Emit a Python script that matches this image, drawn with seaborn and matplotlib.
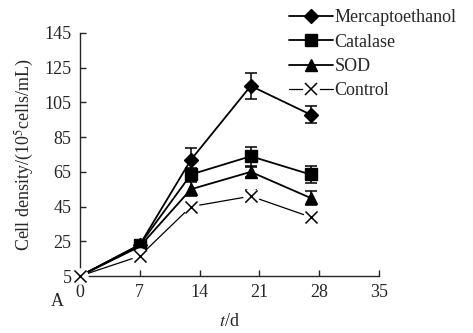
import matplotlib
matplotlib.use("Agg")
import numpy as np
import pandas as pd
import matplotlib.pyplot as plt
import seaborn as sns
from matplotlib.lines import Line2D

sns.set_style("ticks")
plt.rcParams['font.family'] = ['Liberation Serif', 'DejaVu Serif']
plt.rcParams['mathtext.fontset'] = 'stix'

# data
days = [0, 7, 13, 20, 27]
series = ['Mercaptoethanol', 'Catalase', 'SOD', 'Control']
merc = [5, 23, 72, 114.5, 98]
cat = [5, 23, 63.5, 74, 63.5]
sod = [5, 22, 55, 65, 50]
ctrl = [5, 16.5, 45, 51, 39]
merc_err = [0, 3, 7, 7.5, 5]
cat_err = [0, 3, 4, 5.5, 5]
sod_err = [0, 3, 4, 3, 4]
ctrl_err = [0, 2, 2, 3.5, 0]

values = {'Mercaptoethanol': merc, 'Catalase': cat, 'SOD': sod, 'Control': ctrl}
errors = {'Mercaptoethanol': merc_err, 'Catalase': cat_err, 'SOD': sod_err, 'Control': ctrl_err}
markers = {'Mercaptoethanol': 'D', 'Catalase': 's', 'SOD': '^', 'Control': 'x'}
msizes = {'Mercaptoethanol': 7.5, 'Catalase': 8, 'SOD': 8, 'Control': 9}

df = pd.DataFrame([(s, d, v, e) for s in series
                   for d, v, e in zip(days, values[s], errors[s])],
                  columns=['series', 'day', 'density', 'err'])

fig = plt.figure(figsize=(4.73, 3.33), dpi=100)
ax = fig.add_axes([0.169, 0.171, 0.632, 0.730])

for s in series:
    sub = df[df.series == s]
    e = sub[sub.err > 0]
    ax.errorbar(e.day, e.density, yerr=e.err, fmt='none', ecolor='black',
                elinewidth=1.1, capsize=4.5, capthick=1.1, zorder=2)
    if s == 'Control':
        # thin line broken around the crosses
        sns.lineplot(data=sub, x='day', y='density', ax=ax, color='black',
                     lw=0.9, marker='o', ms=11, mfc='white', mec='white',
                     clip_on=False, legend=False, zorder=3)
        sns.scatterplot(data=sub, x='day', y='density', ax=ax, color='black',
                        marker='x', s=75, linewidth=1.1, clip_on=False,
                        legend=False, zorder=4)
    else:
        sns.lineplot(data=sub, x='day', y='density', ax=ax, color='black',
                     lw=1.3, marker=markers[s], ms=msizes[s], mew=1,
                     mec='black', mfc='black', markevery=[1, 2, 3, 4],
                     clip_on=False, legend=False, zorder=3)

ax.set_xlim(0, 35)
ax.set_ylim(5, 145)
ax.set_xticks([0, 7, 14, 21, 28, 35])
ax.set_yticks([5, 25, 45, 65, 85, 105, 125, 145])
ax.tick_params(direction='in', length=4, width=1, labelsize=13)
ax.tick_params(axis='y', pad=6)
ax.tick_params(axis='x', pad=6)
for sp in ['top', 'right']:
    ax.spines[sp].set_visible(False)
for sp in ['left', 'bottom']:
    ax.spines[sp].set_linewidth(1)

ax.set_xlabel('$t$/d', fontsize=13, labelpad=8)
ax.set_ylabel('Cell density/(10$^5$cells/mL)', fontsize=13, labelpad=6)
ax.text(-0.075, -0.105, 'A', transform=ax.transAxes, fontsize=13,
        ha='center', va='center')

handles = []
for s in series:
    if s == 'Control':
        gap = Line2D([], [], color='black', lw=0.9, marker='o', ms=11,
                     mfc='white', mec='white')
        cross = Line2D([], [], ls='none', marker='x', ms=8, mew=1.1, color='black')
        handles.append((gap, cross))
    else:
        handles.append(Line2D([], [], color='black', lw=1.3, marker=markers[s],
                              ms=msizes[s], mfc='black', mec='black'))
ax.legend(handles, series, loc='upper left', bbox_to_anchor=(0.70, 1.097),
          frameon=False, fontsize=13, handlelength=2.4, handletextpad=0.1,
          labelspacing=0.4, borderpad=0, borderaxespad=0)

fig.savefig('out.png', dpi=100)
